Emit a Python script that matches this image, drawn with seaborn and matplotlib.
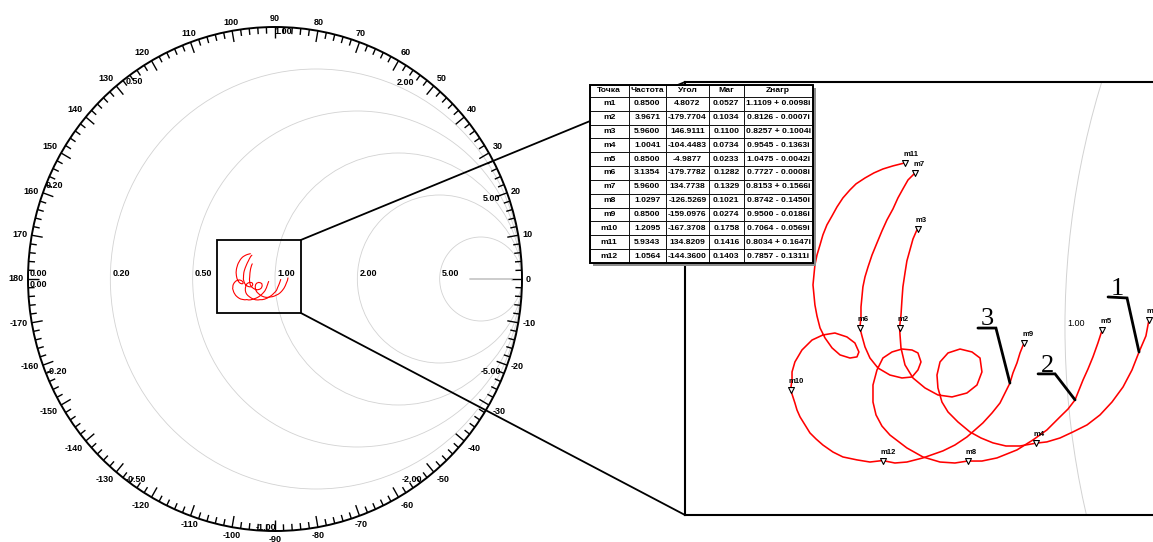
import numpy as np
import pandas as pd
import matplotlib
matplotlib.use("Agg")
import matplotlib.pyplot as plt
import seaborn as sns
from matplotlib.patches import Circle, Rectangle, ConnectionPatch
from matplotlib.collections import LineCollection

# ---- marker table ----
headers = ['Точка', 'Частота', 'Угол', 'Маг', 'Zнагр']
points = ['m1', 'm2', 'm3', 'm4', 'm5', 'm6', 'm7', 'm8', 'm9', 'm10', 'm11', 'm12']
freq = [0.8500, 3.9671, 5.9600, 1.0041, 0.8500, 3.1354, 5.9600, 1.0297, 0.8500, 1.2095, 5.9343, 1.0564]
angle = [4.8072, -179.7704, 146.9111, -104.4483, -4.9877, -179.7782, 134.7738, -126.5269,
         -159.0976, -167.3708, 134.8209, -144.3600]
mag = [0.0527, 0.1034, 0.1100, 0.0734, 0.0233, 0.1282, 0.1329, 0.1021, 0.0274, 0.1758, 0.1416, 0.1403]
z_load = ['1.1109 + 0.0098i', '0.8126 - 0.0007i', '0.8257 + 0.1004i', '0.9545 - 0.1363i',
          '1.0475 - 0.0042i', '0.7727 - 0.0008i', '0.8153 + 0.1566i', '0.8742 - 0.1450i',
          '0.9500 - 0.0186i', '0.7064 - 0.0569i', '0.8034 + 0.1647i', '0.7857 - 0.1311i']

# ---- reflection coefficient traces (Re, Im) ----
c1_re = [0.0525, 0.0506, 0.0463, 0.0419, 0.0363, 0.0294, 0.0219, 0.0138, 0.0050, -0.0031,
         -0.0113, -0.0183, -0.0281, -0.0369, -0.0450, -0.0525, -0.0594, -0.0669, -0.0731, -0.0769,
         -0.0794, -0.0800, -0.0781, -0.0731, -0.0656, -0.0581, -0.0531, -0.0519, -0.0550, -0.0613,
         -0.0706, -0.0794, -0.0875, -0.0950, -0.1000, -0.1025, -0.1031, -0.1034, -0.1025, -0.1019,
         -0.1013, -0.1000, -0.0988, -0.0969, -0.0950, -0.0922]
c1_im = [0.0044, -0.0055, -0.0153, -0.0263, -0.0367, -0.0459, -0.0538, -0.0599, -0.0642, -0.0679,
         -0.0703, -0.0711, -0.0728, -0.0728, -0.0709, -0.0679, -0.0642, -0.0581, -0.0520, -0.0459,
         -0.0373, -0.0294, -0.0214, -0.0159, -0.0135, -0.0153, -0.0190, -0.0275, -0.0355, -0.0404,
         -0.0428, -0.0416, -0.0373, -0.0312, -0.0232, -0.0128, -0.0049, -0.0004, 0.0073, 0.0165,
         0.0245, 0.0330, 0.0404, 0.0471, 0.0538, 0.0601]

c2_re = [0.0232, 0.0206, 0.0175, 0.0144, 0.0113, 0.0063, 0.0019, -0.0031, -0.0113, -0.0200,
         -0.0300, -0.0425, -0.0519, -0.0608, -0.0688, -0.0781, -0.0888, -0.0988, -0.1094, -0.1144,
         -0.1181, -0.1200, -0.1200, -0.1175, -0.1138, -0.1081, -0.1019, -0.0956, -0.0919, -0.0900,
         -0.0919, -0.0956, -0.1019, -0.1094, -0.1169, -0.1219, -0.1250, -0.1269, -0.1282, -0.1275,
         -0.1275, -0.1269, -0.1263, -0.1250, -0.1231, -0.1206, -0.1175, -0.1144, -0.1113, -0.1075,
         -0.1044, -0.1013, -0.0981, -0.0936]
c2_im = [-0.0020, -0.0098, -0.0183, -0.0257, -0.0324, -0.0446, -0.0502, -0.0550, -0.0630, -0.0691,
         -0.0752, -0.0801, -0.0820, -0.0820, -0.0832, -0.0826, -0.0795, -0.0740, -0.0661, -0.0606,
         -0.0538, -0.0459, -0.0355, -0.0263, -0.0190, -0.0153, -0.0135, -0.0141, -0.0159, -0.0214,
         -0.0263, -0.0306, -0.0312, -0.0294, -0.0251, -0.0190, -0.0122, -0.0055, -0.0005, 0.0061,
         0.0122, 0.0183, 0.0245, 0.0306, 0.0367, 0.0440, 0.0514, 0.0587, 0.0654, 0.0722,
         0.0789, 0.0844, 0.0899, 0.0943]

c3_re = [-0.0256, -0.0281, -0.0300, -0.0325, -0.0344, -0.0375, -0.0406, -0.0456, -0.0513, -0.0563,
         -0.0613, -0.0688, -0.0763, -0.0888, -0.0988, -0.1063, -0.1140, -0.1219, -0.1300, -0.1388,
         -0.1450, -0.1513, -0.1556, -0.1594, -0.1625, -0.1656, -0.1675, -0.1688, -0.1715, -0.1706,
         -0.1706, -0.1688, -0.1644, -0.1581, -0.1513, -0.1438, -0.1363, -0.1313, -0.1288, -0.1300,
         -0.1344, -0.1406, -0.1456, -0.1500, -0.1531, -0.1550, -0.1563, -0.1569, -0.1575, -0.1569,
         -0.1563, -0.1550, -0.1531, -0.1513, -0.1488, -0.1456, -0.1425, -0.1388, -0.1344, -0.1306,
         -0.1250, -0.1194, -0.1138, -0.1075, -0.0998]
c3_im = [-0.0098, -0.0159, -0.0220, -0.0281, -0.0343, -0.0404, -0.0465, -0.0526, -0.0587, -0.0630,
         -0.0673, -0.0722, -0.0758, -0.0801, -0.0826, -0.0832, -0.0817, -0.0826, -0.0813, -0.0795,
         -0.0765, -0.0722, -0.0685, -0.0648, -0.0599, -0.0550, -0.0508, -0.0465, -0.0384, -0.0324,
         -0.0275, -0.0214, -0.0141, -0.0080, -0.0049, -0.0037, -0.0061, -0.0098, -0.0153, -0.0183,
         -0.0190, -0.0171, -0.0128, -0.0067, -0.0006, 0.0067, 0.0135, 0.0196, 0.0257, 0.0318,
         0.0379, 0.0440, 0.0502, 0.0563, 0.0624, 0.0679, 0.0734, 0.0789, 0.0838, 0.0875,
         0.0911, 0.0942, 0.0966, 0.0985, 0.1004]

# smith chart grid
r_values = [0.2, 0.5, 1.0, 2.0, 5.0]
r_labels = ['0.20', '0.50', '1.00', '2.00', '5.00']
x_values = [0.2, 0.5, 1.0, 2.0, 5.0]
deg_labels = list(range(-170, 181, 10))

# label nudges (pixels) for reactance labels on the rim
x_off_pos = [(7, -3), (8, -4), (8, -5), (-18, -5), (-12, -16)]
x_off_neg = [(10, 4), (9, 1), (-9, 3), (-11, 1), (-12, 4)]

# zoom windows (reflection coefficient units)
box_x, box_y = (-0.235, 0.105), (-0.135, 0.155)
zoom_x, zoom_y = (-0.2375, 0.0594), (-0.1150, 0.1498)

sns.set_theme(style="white")
plt.rcParams['font.family'] = ['Liberation Sans', 'DejaVu Sans']
plt.rcParams['text.color'] = 'black'
grid_col = '#d2d2d2'

W, H = 1153, 542
fig = plt.figure(figsize=(W / 100, H / 100), dpi=100)

traces = pd.concat([
    pd.DataFrame({'re': c1_re, 'im': c1_im, 'trace': 1}),
    pd.DataFrame({'re': c2_re, 'im': c2_im, 'trace': 2}),
    pd.DataFrame({'re': c3_re, 'im': c3_im, 'trace': 3}),
], ignore_index=True)

mk = pd.DataFrame({'point': points, 'freq': freq})
mk['re'] = np.array(mag) * np.cos(np.deg2rad(angle))
mk['im'] = np.array(mag) * np.sin(np.deg2rad(angle))

# ---------------- left: full smith chart ----------------
cx, cy, rx, ry = 275, 279, 247, 252
ax_l = fig.add_axes([(cx - 1.1 * rx) / W, (H - cy - 1.1 * ry) / H, 2.2 * rx / W, 2.2 * ry / H])
for r in r_values:
    ax_l.add_patch(Circle((r / (1 + r), 0), 1 / (1 + r), fill=False, ec=grid_col, lw=0.6))
ax_l.add_patch(Circle((0, 0), 1, fill=False, ec='black', lw=1.4))

segs = []
for d in range(0, 360, 2):
    t = np.deg2rad(d)
    L = 0.045 if d % 10 == 0 else 0.026
    segs.append([(np.cos(t), np.sin(t)), ((1 - L) * np.cos(t), (1 - L) * np.sin(t))])
ax_l.add_collection(LineCollection(segs, colors='black', linewidths=1.0))

for d in deg_labels:
    t = np.deg2rad(d)
    c, s = np.cos(t), np.sin(t)
    ha = 'left' if c > 0.4 else ('right' if c < -0.4 else 'center')
    va = 'bottom' if s > 0.4 else ('top' if s < -0.4 else 'center')
    ax_l.annotate(str(d), (c, s), xytext=(4 * c, 4 * s), textcoords='offset pixels',
                  ha=ha, va=va, fontsize=6.5, fontweight='bold', annotation_clip=False)

for r, lab in zip(r_values, r_labels):
    ax_l.annotate(lab, ((r - 1) / (r + 1), 0), xytext=(2, 1), textcoords='offset pixels',
                  ha='left', va='bottom', fontsize=6.5, fontweight='bold')
ax_l.annotate('0.00', (-1, 0), xytext=(2, 1), textcoords='offset pixels', ha='left', va='bottom',
              fontsize=6.5, fontweight='bold')
ax_l.annotate('0.00', (-1, 0), xytext=(2, -1), textcoords='offset pixels', ha='left', va='top',
              fontsize=6.5, fontweight='bold')

for xv, op, on in zip(x_values, x_off_pos, x_off_neg):
    phi = np.pi - 2 * np.arctan(xv)
    ax_l.annotate(f'{xv:.2f}', (np.cos(phi), np.sin(phi)), xytext=op, textcoords='offset pixels',
                  ha='center', va='center', fontsize=6.5, fontweight='bold')
    ax_l.annotate(f'-{xv:.2f}', (np.cos(phi), -np.sin(phi)), xytext=on, textcoords='offset pixels',
                  ha='center', va='center', fontsize=6.5, fontweight='bold')

ax_l.plot([0.79, 0.96], [0, 0], color='#c8c8c8', lw=1.3)

sns.lineplot(data=traces, x='re', y='im', units='trace', estimator=None, sort=False,
             color='red', lw=0.8, ax=ax_l, legend=False)
ax_l.add_patch(Rectangle((box_x[0], box_y[0]), box_x[1] - box_x[0], box_y[1] - box_y[0],
                         fill=False, ec='black', lw=1.3, zorder=4))
ax_l.set_xlim(-1.1, 1.1)
ax_l.set_ylim(-1.1, 1.1)
ax_l.axis('off')

# ---------------- right: zoomed panel ----------------
px_l, px_r, px_t, px_b = 685, 1160, 82, 515
ax_r = fig.add_axes([px_l / W, (H - px_b) / H, (px_r - px_l) / W, (px_b - px_t) / H])
ax_r.add_patch(Circle((0.5, 0), 0.5, fill=False, ec=grid_col, lw=0.7))
ax_r.annotate('1.00', (0, 0), xytext=(2, 3), textcoords='offset pixels', ha='left', va='center',
              fontsize=6.5)
sns.lineplot(data=traces, x='re', y='im', units='trace', estimator=None, sort=False,
             color='red', lw=1.15, ax=ax_r, legend=False)
sns.scatterplot(data=mk, x='re', y='im', marker='v', s=18, color='white', edgecolor='black',
                linewidth=0.8, ax=ax_r, zorder=5, legend=False)
for _, row in mk.iterrows():
    ax_r.annotate(row['point'], (row['re'], row['im']), xytext=(-2, 5), textcoords='offset pixels',
                  ha='left', va='bottom', fontsize=5.5, fontweight='bold')

ax_r.set_xlim(*zoom_x)
ax_r.set_ylim(*zoom_y)
ax_r.set_xlabel('')
ax_r.set_ylabel('')
ax_r.set_xticks([])
ax_r.set_yticks([])
for sp in ax_r.spines.values():
    sp.set_color('black')
    sp.set_linewidth(1.5)

# numbered leaders: anchor on the trace, then elbow / underline offsets in pixels
sx = (zoom_x[1] - zoom_x[0]) / (px_r - px_l)
sy = (zoom_y[1] - zoom_y[0]) / (px_b - px_t)
leaders = [('1', (c1_re[2], c1_im[2]), [(-12, 54), (-31, 55)], (-22, 57)),
           ('2', (c2_re[5], c2_im[5]), [(-20, 26), (-37, 26)], (-28, 28)),
           ('3', (c3_re[4], c3_im[4]), [(-14, 55), (-32, 55)], (-23, 58))]
for lab, (ax0, ay0), elbows, (tx, ty) in leaders:
    xs = [ax0] + [ax0 + dx * sx for dx, dy in elbows]
    ys = [ay0] + [ay0 + dy * sy for dx, dy in elbows]
    ax_r.plot(xs, ys, color='black', lw=2, solid_joinstyle='miter', zorder=6)
    ax_r.text(ax0 + tx * sx, ay0 + ty * sy, lab, ha='center', va='baseline', fontsize=19,
              family=['Liberation Serif', 'DejaVu Serif'], zorder=6)

# connecting lines between the box and the panel
for ya, yb in [(box_y[1], 1), (box_y[0], 0)]:
    fig.add_artist(ConnectionPatch(xyA=(box_x[1], ya), coordsA=ax_l.transData,
                                   xyB=(0, yb), coordsB=ax_r.transAxes, color='black', lw=1.3))

# ---------------- marker table ----------------
tl, tr, tt, tb = 589.5, 812.5, 84.5, 263
ax_t = fig.add_axes([tl / W, (H - tb) / H, (tr - tl) / W, (tb - tt) / H], zorder=3)
ax_t.axis('off')
cell_text = [[p, f'{f:.4f}', f'{a:.4f}', f'{m:.4f}', z]
             for p, f, a, m, z in zip(points, freq, angle, mag, z_load)]
col_w = [39.3, 37, 43, 35, 68.7]
tbl = ax_t.table(cellText=cell_text, colLabels=headers, colWidths=[c / sum(col_w) for c in col_w],
                 cellLoc='center', bbox=[0, 0, 1, 1])
tbl.auto_set_font_size(False)
tbl.set_fontsize(6.1)
tbl.set_zorder(2)
for (r, c), cell in tbl.get_celld().items():
    cell.set_linewidth(0.6)
    cell.set_edgecolor('black')
    cell.set_facecolor('white')
    cell.get_text().set_fontweight('bold')
for c in range(len(headers)):
    tbl[0, c].set_height(tbl[1, c].get_height() * 0.89)
ax_t.add_patch(Rectangle((3 / (tr - tl), -3 / (tb - tt)), 1, 1, transform=ax_t.transAxes,
                         fc='#8c8c8c', ec='none', zorder=0, clip_on=False))
ax_t.add_patch(Rectangle((0, 0), 1, 1, transform=ax_t.transAxes, fill=False, ec='black',
                         lw=1.4, zorder=3, clip_on=False))

fig.savefig('out.png', dpi=100)
